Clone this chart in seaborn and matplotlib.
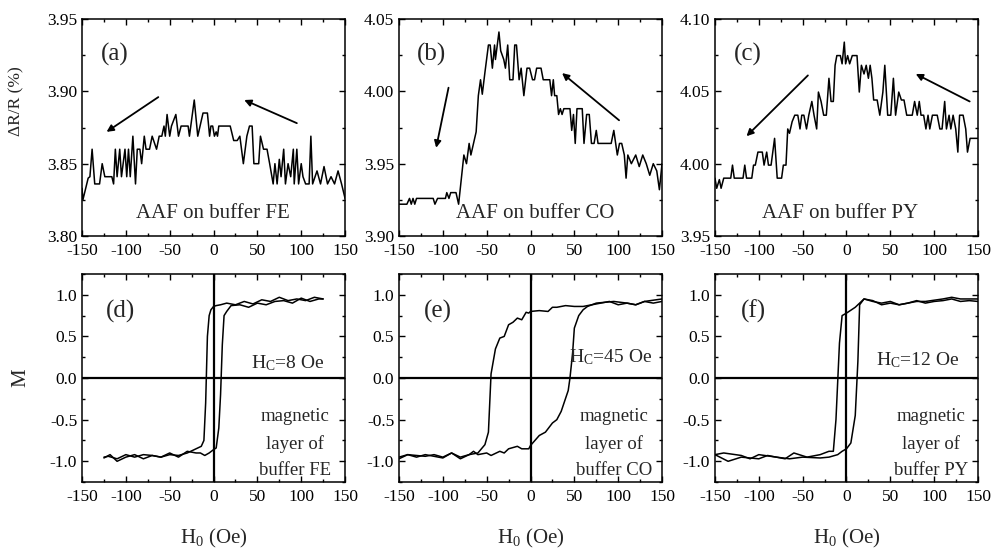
"""
plot.py
Magnetoresistance (top row) and hysteresis loops (bottom row) for the AAF
on three buffer layers, FE / CO / PY. Values read off the original figure.
"""

import matplotlib
matplotlib.use("Agg")
import matplotlib.pyplot as plt
from matplotlib.ticker import MultipleLocator
import seaborn as sns

sns.set_style("ticks")
plt.rcParams["font.family"] = ["Liberation Serif", "DejaVu Serif"]
plt.rcParams["mathtext.fontset"] = "custom"
plt.rcParams["mathtext.rm"] = "Liberation Serif"
plt.rcParams["mathtext.default"] = "regular"
plt.rcParams["axes.unicode_minus"] = False

# ====================== DATA ======================
# (a) AAF on buffer FE
field_a = [-150, -149, -143, -141, -138.5, -135.5, -130, -127, -124, -116,
           -114, -112, -110, -107, -105, -101, -99, -97, -95, -92,
           -89, -87, -84, -82, -79, -77, -73, -70, -65, -62,
           -59, -56.5, -55, -53, -50, -48, -43, -40, -37, -29,
           -27.5, -22, -18, -12, -7, -4.5, -3, -1, 1, 3,
           4.5, 6, 19, 23, 27, 30, 34, 38, 41, 44,
           46, 51.5, 53.5, 57, 61, 64, 68, 70, 72.5, 75,
           77, 80, 82, 85, 88, 91, 92, 95, 97, 100,
           102, 105, 109, 111, 113, 118, 122, 126, 130, 134,
           138, 142, 146, 150]
dr_a = [3.833, 3.825, 3.840, 3.841, 3.860, 3.836, 3.836, 3.850, 3.841, 3.841,
        3.836, 3.860, 3.841, 3.860, 3.841, 3.860, 3.841, 3.860, 3.841, 3.869,
        3.836, 3.860, 3.860, 3.850, 3.869, 3.860, 3.860, 3.869, 3.860, 3.869,
        3.869, 3.876, 3.869, 3.884, 3.869, 3.876, 3.884, 3.869, 3.876, 3.876,
        3.869, 3.894, 3.869, 3.885, 3.885, 3.869, 3.876, 3.876, 3.869, 3.872,
        3.869, 3.876, 3.876, 3.866, 3.866, 3.869, 3.850, 3.869, 3.876, 3.876,
        3.850, 3.850, 3.869, 3.860, 3.860, 3.850, 3.836, 3.850, 3.836, 3.853,
        3.841, 3.860, 3.836, 3.850, 3.841, 3.860, 3.836, 3.860, 3.836, 3.850,
        3.841, 3.836, 3.836, 3.869, 3.836, 3.845, 3.836, 3.848, 3.836, 3.841,
        3.836, 3.845, 3.836, 3.826]

# (b) AAF on buffer CO
field_b = [-150, -141, -138, -136, -134, -132, -130, -111, -109, -106,
           -97, -95.5, -93, -91, -85, -82, -76, -73, -70, -68,
           -65, -62, -59.5, -57, -55, -52, -48, -46, -43.5, -41,
           -40, -36, -34, -30.5, -28.6, -26, -23.7, -20, -18, -16,
           -13, -10.7, -7.6, -4, -1, 2.3, 4.6, 7, 12, 14.5,
           22, 24, 26, 27.5, 30, 32, 34, 36, 38, 45,
           47, 49, 51, 53, 59, 61, 64, 67, 69.5, 72.5,
           75, 77, 92, 95, 99, 101.5, 104, 107, 109, 111,
           115, 120, 124, 128, 132, 136, 140, 144, 147, 150]
dr_b = [3.922, 3.922, 3.926, 3.922, 3.926, 3.922, 3.926, 3.926, 3.922, 3.926,
        3.926, 3.930, 3.926, 3.930, 3.930, 3.922, 3.956, 3.950, 3.964, 3.956,
        3.964, 3.972, 3.997, 4.008, 3.998, 4.013, 4.032, 4.032, 4.016, 4.032,
        4.022, 4.041, 4.028, 4.022, 4.016, 4.032, 4.008, 4.008, 4.032, 4.032,
        4.008, 4.016, 3.997, 4.016, 4.016, 4.008, 4.008, 4.016, 4.016, 4.008,
        4.008, 3.997, 4.008, 3.997, 3.997, 3.984, 3.988, 3.984, 3.988, 3.988,
        3.973, 3.984, 3.964, 3.988, 3.988, 3.964, 3.984, 3.984, 3.964, 3.964,
        3.973, 3.964, 3.964, 3.973, 3.956, 3.964, 3.964, 3.956, 3.940, 3.956,
        3.950, 3.956, 3.948, 3.956, 3.950, 3.942, 3.950, 3.945, 3.932, 3.950]

# (c) AAF on buffer PY
field_c = [-150, -148, -145, -143, -140, -132, -130, -128, -118, -116,
           -114, -108, -106, -104, -101, -96, -94, -91, -89, -86,
           -82, -79, -74, -72, -69, -67, -65, -62, -59, -55.5,
           -53, -51, -48.6, -45.6, -43, -39.5, -37, -34, -32, -29,
           -26, -23, -20, -17.6, -15, -13, -11, -7, -5, -2.5,
           -1, 1.3, 3.6, 6.6, 12, 14.6, 17, 20, 22.5, 25,
           27, 29, 31, 35, 38, 41.5, 43.7, 47, 50.5, 53.5,
           56, 59.6, 62.6, 65.6, 68.7, 75, 77.7, 80.7, 83, 85,
           88, 90.6, 93, 95, 98, 103.5, 106.5, 109, 112, 114,
           117, 119, 121.6, 124.6, 127, 129, 133, 136, 138, 141,
           150]
dr_c = [3.990, 3.983, 3.989, 3.983, 3.990, 3.990, 3.999, 3.990, 3.990, 3.999,
        3.990, 3.990, 3.999, 3.999, 4.008, 4.008, 3.999, 4.008, 3.999, 3.999,
        4.0175, 3.990, 3.990, 3.999, 3.999, 4.024, 4.021, 4.029, 4.0335, 4.0335,
        4.024, 4.0335, 4.0335, 4.024, 4.0335, 4.043, 4.0335, 4.024, 4.0495, 4.043,
        4.0335, 4.0335, 4.059, 4.043, 4.043, 4.068, 4.0747, 4.0747, 4.069, 4.084,
        4.069, 4.0747, 4.069, 4.0747, 4.0747, 4.0495, 4.068, 4.062, 4.068, 4.059,
        4.068, 4.059, 4.044, 4.044, 4.0335, 4.0495, 4.068, 4.0335, 4.0335, 4.059,
        4.0335, 4.0495, 4.044, 4.044, 4.0335, 4.0335, 4.043, 4.0335, 4.043, 4.0335,
        4.0335, 4.024, 4.0335, 4.024, 4.0335, 4.0335, 4.024, 4.024, 4.043, 4.024,
        4.0335, 4.024, 4.0335, 4.024, 4.008, 4.0335, 4.0335, 4.024, 4.008, 4.0175,
        4.0175]

# (d) loop, buffer FE: descending and ascending branches
field_d_down = [125, 115, 105, 95, 85, 75, 65, 55, 45, 35,
                25, 15, 8, 3, 0, -3, -5, -7, -9, -11,
                -14, -20, -30, -40, -50, -60, -70, -80, -90, -100,
                -110, -120, -125]
m_d_down = [0.95, 0.97, 0.93, 0.95, 0.93, 0.97, 0.92, 0.94, 0.89, 0.92,
            0.88, 0.90, 0.88, 0.87, 0.86, 0.82, 0.75, 0.50, -0.30, -0.75,
            -0.82, -0.85, -0.90, -0.93, -0.92, -0.95, -0.93, -0.92, -0.95, -0.92,
            -0.97, -0.94, -0.95]
field_d_up = [-125, -118, -110, -100, -90, -80, -70, -60, -50, -40,
              -30, -20, -15, -10, -5, 0, 3, 6, 8, 10,
              12, 15, 20, 30, 40, 50, 60, 70, 80, 90,
              100, 110, 120, 125]
m_d_up = [-0.96, -0.92, -1.00, -0.95, -0.92, -0.97, -0.93, -0.95, -0.90, -0.95,
          -0.88, -0.90, -0.90, -0.93, -0.90, -0.86, -0.84, -0.60, -0.20, 0.40,
          0.75, 0.80, 0.87, 0.88, 0.85, 0.90, 0.88, 0.92, 0.93, 0.90,
          0.96, 0.92, 0.95, 0.95]

# (e) loop, buffer CO
field_e_down = [150, 140, 130, 120, 110, 100, 90, 80, 70, 60,
                50, 40, 30, 25, 20, 10, 0, -2, -5, -10,
                -15, -20, -25, -30, -35, -40, -45, -48, -52, -60,
                -70, -80, -90, -100, -110, -120, -130, -140, -150]
m_e_down = [0.92, 0.90, 0.92, 0.88, 0.90, 0.88, 0.92, 0.90, 0.88, 0.86,
            0.86, 0.87, 0.85, 0.85, 0.80, 0.81, 0.80, 0.78, 0.79, 0.70,
            0.72, 0.67, 0.64, 0.50, 0.48, 0.35, 0.05, -0.65, -0.80, -0.90,
            -0.92, -0.97, -0.90, -0.95, -0.92, -0.94, -0.93, -0.92, -0.97]
field_e_up = [-150, -140, -130, -120, -110, -100, -90, -80, -70, -65,
              -60, -50, -45, -35, -30, -25, -15, -10, -2, 0,
              5, 10, 17, 25, 30, 35, 43, 45, 48, 50,
              55, 60, 65, 75, 95, 110, 120, 130, 150]
m_e_up = [-0.95, -0.92, -0.95, -0.92, -0.94, -0.96, -0.90, -0.95, -0.92, -0.88,
          -0.92, -0.90, -0.93, -0.88, -0.90, -0.85, -0.82, -0.85, -0.85, -0.81,
          -0.75, -0.69, -0.65, -0.54, -0.50, -0.40, -0.15, 0.00, 0.30, 0.60,
          0.75, 0.82, 0.86, 0.90, 0.92, 0.90, 0.88, 0.92, 0.95]

# (f) loop, buffer PY
field_f_down = [150, 140, 130, 120, 110, 100, 90, 80, 70, 60,
                50, 40, 30, 20, 10, 0, -5, -8, -12, -15,
                -20, -30, -45, -60, -70, -80, -100, -110, -120, -140,
                -150]
m_f_down = [0.92, 0.93, 0.92, 0.95, 0.93, 0.92, 0.90, 0.93, 0.90, 0.88,
            0.92, 0.90, 0.92, 0.95, 0.85, 0.78, 0.75, 0.42, -0.50, -0.88,
            -0.88, -0.92, -0.95, -0.90, -0.97, -0.95, -0.92, -0.97, -0.93, -0.90,
            -0.92]
field_f_up = [-150, -135, -120, -100, -90, -80, -65, -50, -30, -20,
              -10, -5, 0, 5, 10, 13, 15, 20, 30, 40,
              50, 60, 80, 90, 110, 120, 130, 150]
m_f_up = [-0.92, -1.00, -0.95, -0.97, -0.93, -0.95, -0.97, -0.95, -0.96, -0.95,
          -0.92, -0.88, -0.85, -0.78, -0.45, 0.20, 0.88, 0.95, 0.93, 0.88,
          0.90, 0.88, 0.92, 0.92, 0.95, 0.97, 0.95, 0.95]

# ====================== FIGURE ======================
fig = plt.figure(figsize=(9.93, 5.58), dpi=100)
lefts = [0.0826, 0.4018, 0.7200]
width = 0.2649
top_axes = [fig.add_axes([l, 0.577, width, 0.389]) for l in lefts]
bot_axes = [fig.add_axes([l, 0.136, width, 0.373]) for l in lefts]

LW = 1.1


def style_axis(ax):
    ax.set_xlim(-150, 150)
    ax.xaxis.set_major_locator(MultipleLocator(50))
    ax.xaxis.set_minor_locator(MultipleLocator(25))
    ax.tick_params(which="both", direction="in", top=True, right=True,
                   labelsize=12.5, width=1.0, colors="black")
    ax.tick_params(which="major", length=4)
    ax.tick_params(which="minor", length=2.5)
    ax.tick_params(axis="x", which="major", pad=5)
    ax.tick_params(axis="y", which="major", pad=3.5)
    for sp in ax.spines.values():
        sp.set_linewidth(1.1)
        sp.set_color("black")
    ax.set_xlabel("")
    ax.set_ylabel("")


# top row: magnetoresistance
top_data = [(field_a, dr_a, 3.80, 3.95, "(a)", "AAF on buffer FE", 0.498),
            (field_b, dr_b, 3.90, 4.05, "(b)", "AAF on buffer CO", 0.517),
            (field_c, dr_c, 3.95, 4.10, "(c)", "AAF on buffer PY", 0.475)]
for ax, (fx, fy, lo, hi, tag, txt, tx) in zip(top_axes, top_data):
    sns.lineplot(x=fx, y=fy, ax=ax, color="black", linewidth=LW,
                 estimator=None, sort=False)
    style_axis(ax)
    ax.set_ylim(lo, hi)
    ax.yaxis.set_major_locator(MultipleLocator(0.05))
    ax.yaxis.set_minor_locator(MultipleLocator(0.025))
    ax.yaxis.set_major_formatter(plt.FormatStrFormatter("%.2f"))
    ax.text(0.125, 0.835, tag, transform=ax.transAxes, fontsize=18,
            ha="center", va="center")
    ax.text(tx, 0.106, txt, transform=ax.transAxes, fontsize=15,
            ha="center", va="center")

top_axes[0].set_ylabel("ΔR/R (%)", fontsize=12.5)
top_axes[0].yaxis.set_label_coords(-0.22, 0.62)

# arrows showing the sweep direction (tail -> head, data coords)
arrows = [
    [((-63, 3.896), (-122, 3.872)), ((95, 3.878), (35, 3.894))],
    [((-93.5, 4.0025), (-107.6, 3.961)), ((101, 3.980), (36, 4.0126))],
    [((-44, 4.061), (-114, 4.019)), ((140.5, 4.043), (79, 4.062))],
]
for ax, pair in zip(top_axes, arrows):
    for tail, head in pair:
        ax.annotate("", xy=head, xytext=tail,
                    arrowprops=dict(arrowstyle="-|>", color="black", lw=1.3,
                                    mutation_scale=10, shrinkA=0, shrinkB=0))

# bottom row: hysteresis loops
loops = [(field_d_down, m_d_down, field_d_up, m_d_up, "(d)",
          "H$_\\mathregular{C}$=8 Oe", 0.783, 0.572, "buffer FE", 0.81),
         (field_e_down, m_e_down, field_e_up, m_e_up, "(e)",
          "H$_\\mathregular{C}$=45 Oe", 0.806, 0.60, "buffer CO", 0.817),
         (field_f_down, m_f_down, field_f_up, m_f_up, "(f)",
          "H$_\\mathregular{C}$=12 Oe", 0.77, 0.586, "buffer PY", 0.82)]
for ax, (xd, yd, xu, yu, tag, hc, hx, hy, buf, bx) in zip(bot_axes, loops):
    ax.axhline(0, color="black", lw=1.6, zorder=1)
    ax.axvline(0, color="black", lw=1.6, zorder=1)
    sns.lineplot(x=xd, y=yd, ax=ax, color="black", linewidth=LW,
                 estimator=None, sort=False)
    sns.lineplot(x=xu, y=yu, ax=ax, color="black", linewidth=LW,
                 estimator=None, sort=False)
    style_axis(ax)
    ax.set_ylim(-1.25, 1.25)
    ax.yaxis.set_major_locator(MultipleLocator(0.5))
    ax.yaxis.set_minor_locator(MultipleLocator(0.25))
    ax.yaxis.set_major_formatter(plt.FormatStrFormatter("%.1f"))
    ax.text(0.148, 0.82, tag, transform=ax.transAxes, fontsize=18,
            ha="center", va="center")
    ax.text(hx, hy, hc, transform=ax.transAxes, fontsize=14,
            ha="center", va="center")
    ax.text(bx, 0.186, "magnetic\nlayer of\n" + buf, transform=ax.transAxes,
            fontsize=13.5, ha="center", va="center", linespacing=1.7)
    ax.set_xlabel("H$_\\mathregular{0}$ (Oe)", fontsize=15)
    ax.xaxis.set_label_coords(0.5, -0.215)

bot_axes[0].set_ylabel("M", fontsize=15)
bot_axes[0].yaxis.set_label_coords(-0.195, 0.5)

plt.savefig("out.png", dpi=100)
plt.close()
